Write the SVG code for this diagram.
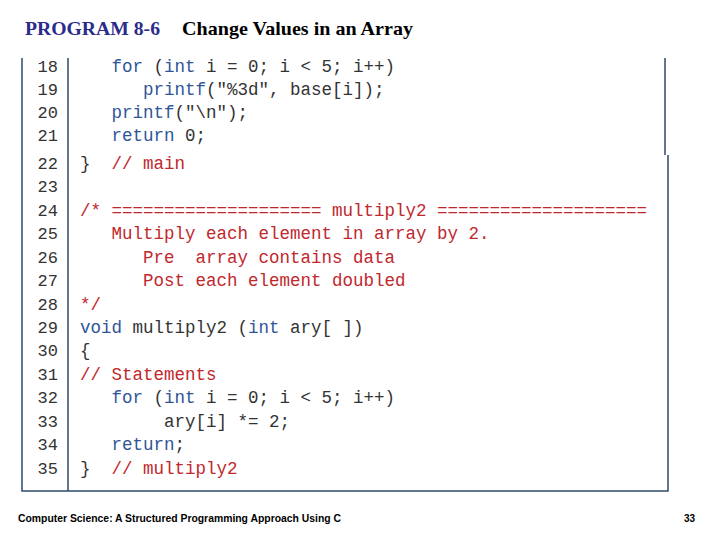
<svg xmlns="http://www.w3.org/2000/svg" width="720" height="540" viewBox="0 0 720 540">
<style>
.c{font-family:"Liberation Mono",monospace;font-size:17.5px;fill:#333;white-space:pre}
.n{font-family:"Liberation Mono",monospace;font-size:17px;fill:#333;text-anchor:end}
.k{fill:#2f5597}.r{fill:#c0282d}
.ln{stroke:#2e4a6b;stroke-width:1.5;fill:none}
</style>
<rect width="720" height="540" fill="#fff"/>
<g id="title" font-family="Liberation Serif,serif" font-size="19" font-weight="bold">
<text x="25" y="35" fill="#2b2b8a" textLength="135" lengthAdjust="spacingAndGlyphs">PROGRAM 8-6</text>
<text x="182" y="35" fill="#000" textLength="231" lengthAdjust="spacingAndGlyphs">Change Values in an Array</text>
</g>
<g id="frame">
<path class="ln" d="M22 58V155M665 58V155M22 155V491H668V155M68 58V491"/>
</g>
<g id="numbers">
<text class="n" x="58" y="72">18</text><text class="n" x="58" y="95">19</text><text class="n" x="58" y="118">20</text><text class="n" x="58" y="141">21</text>
<text class="n" x="58" y="169">22</text><text class="n" x="58" y="192">23</text><text class="n" x="58" y="216">24</text><text class="n" x="58" y="239">25</text><text class="n" x="58" y="263">26</text><text class="n" x="58" y="286">27</text><text class="n" x="58" y="310">28</text><text class="n" x="58" y="333">29</text><text class="n" x="58" y="356">30</text><text class="n" x="58" y="380">31</text><text class="n" x="58" y="403">32</text><text class="n" x="58" y="427">33</text><text class="n" x="58" y="450">34</text><text class="n" x="58" y="474">35</text>
</g>
<g id="code">
<text class="c" x="80" y="72">   <tspan class="k">for</tspan> (<tspan class="k">int</tspan> i = 0; i &lt; 5; i++)</text>
<text class="c" x="80" y="95">      <tspan class="k">printf</tspan>("%3d", base[i]);</text>
<text class="c" x="80" y="118">   <tspan class="k">printf</tspan>("\n");</text>
<text class="c" x="80" y="141">   <tspan class="k">return</tspan> 0;</text>
<text class="c" x="80" y="169">}  <tspan class="r">// main</tspan></text>
<text class="c r" x="80" y="216">/* ==================== multiply2 ====================</text>
<text class="c r" x="80" y="239">   Multiply each element in array by 2.</text>
<text class="c r" x="80" y="263">      Pre  array contains data</text>
<text class="c r" x="80" y="286">      Post each element doubled</text>
<text class="c r" x="80" y="310">*/</text>
<text class="c" x="80" y="333"><tspan class="k">void</tspan> multiply2 (<tspan class="k">int</tspan> ary[ ])</text>
<text class="c" x="80" y="356">{</text>
<text class="c r" x="80" y="380">// Statements</text>
<text class="c" x="80" y="403">   <tspan class="k">for</tspan> (<tspan class="k">int</tspan> i = 0; i &lt; 5; i++)</text>
<text class="c" x="80" y="427">        ary[i] *= 2;</text>
<text class="c" x="80" y="450">   <tspan class="k">return</tspan>;</text>
<text class="c" x="80" y="474">}  <tspan class="r">// multiply2</tspan></text>
</g>
<g id="footer" font-family="Liberation Sans Narrow,Liberation Sans,sans-serif" font-size="10" font-weight="bold" fill="#000">
<text x="18" y="522" textLength="323" lengthAdjust="spacingAndGlyphs">Computer Science: A Structured Programming Approach Using C</text>
<text x="684" y="522">33</text>
</g>
</svg>
